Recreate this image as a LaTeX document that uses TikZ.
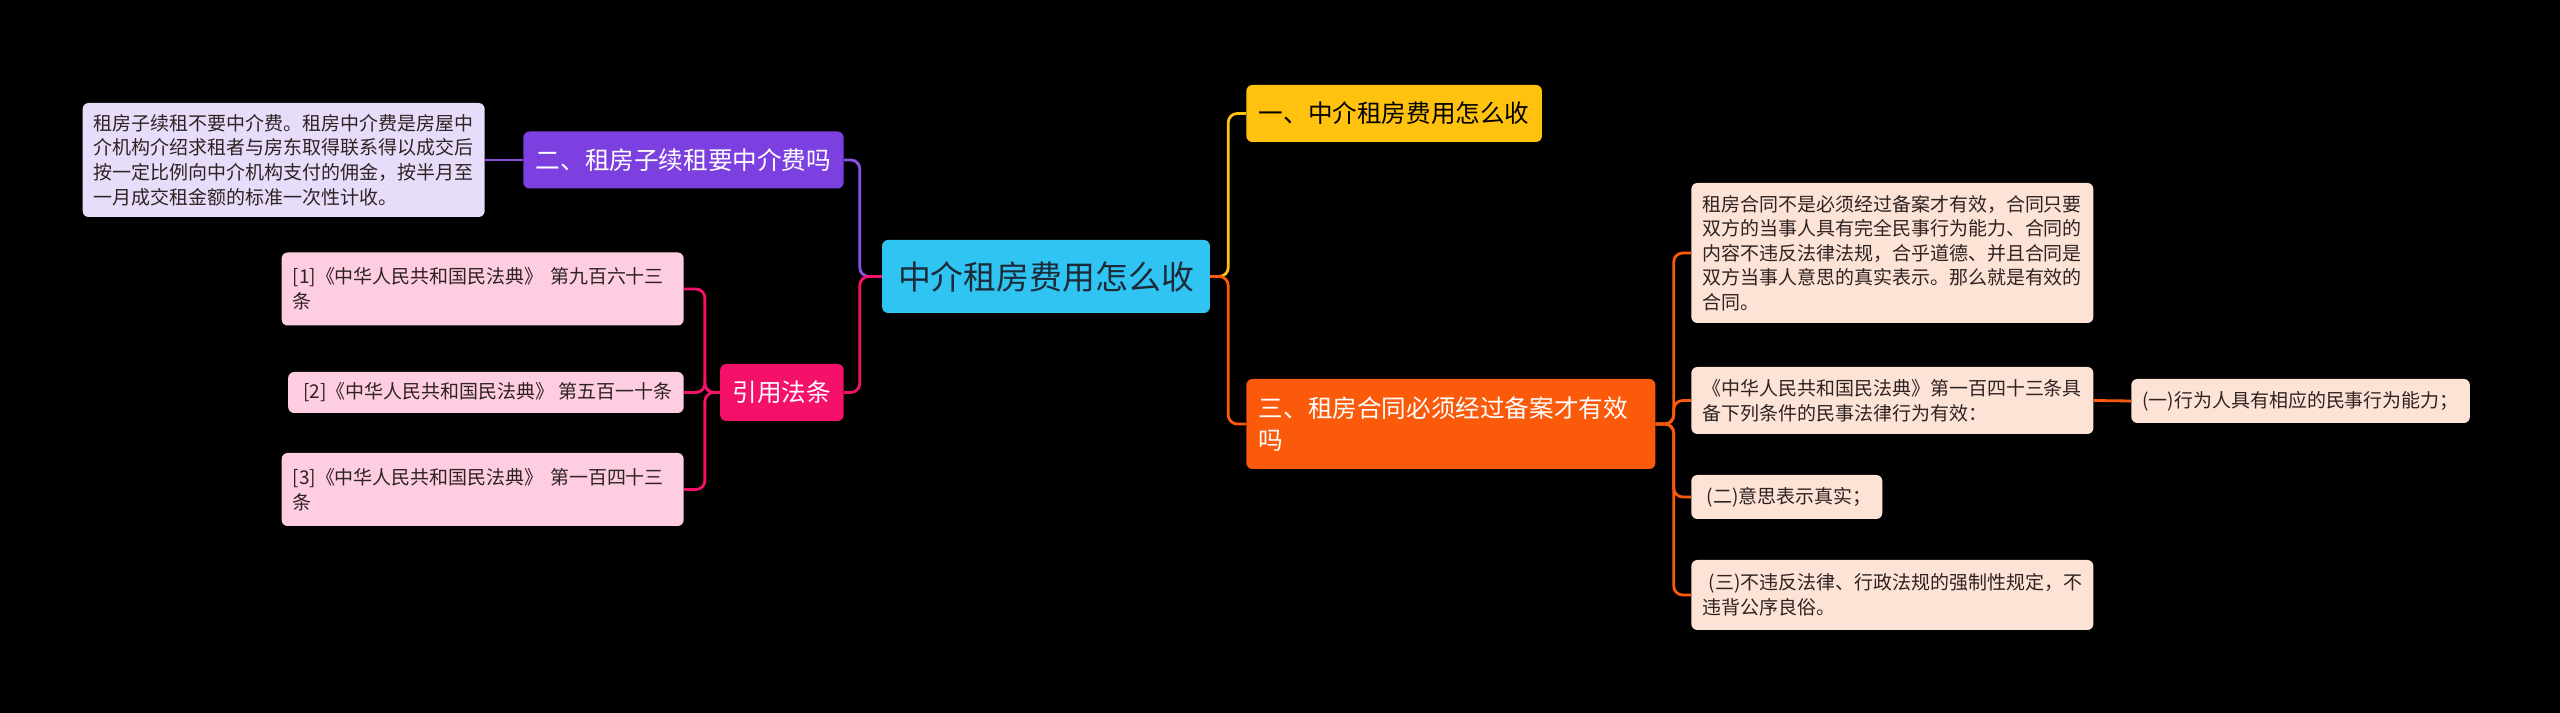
\documentclass[tikz,border=0pt]{standalone}
\usepackage{fontspec}
\setmainfont{Noto Sans CJK SC}
\definecolor{ctrfill}{HTML}{30C4F2}
\definecolor{ctrtext}{HTML}{1C2A38}
\definecolor{yifill}{HTML}{FFC20F}
\definecolor{sanfill}{HTML}{FA5A0A}
\definecolor{erfill}{HTML}{7C3FE0}
\definecolor{yyfill}{HTML}{F5106A}
\definecolor{erleaf}{HTML}{E7DDFB}
\definecolor{yyleaf}{HTML}{FFCDE1}
\definecolor{sanleaf}{HTML}{FDE3D5}
\definecolor{leaftext}{HTML}{2E2222}
\begin{document}
\begin{tikzpicture}[
  box/.style={rounded corners=0.12cm, inner ysep=0.12cm, align=left},
  branch/.style={box, inner xsep=0.25cm, minimum height=1.14cm,
    font=\fontsize{14}{18}\selectfont},
  leaf/.style={box, inner xsep=0.22cm, minimum height=0.88cm, text=leaftext,
    font=\fontsize{10.8}{14}\selectfont},
  wide/.style={text width=7.6cm},
  link/.style={line width=1.6pt, rounded corners=0.18cm}
]
\path[fill=black] (0,0) rectangle (51.2,14.26);

% centre
\node[box, fill=ctrfill, text=ctrtext, inner xsep=0.32cm, minimum height=1.46cm,
  font=\fontsize{18.7}{22}\selectfont] (ctr) at (20.92,8.73) {中介租房费用怎么收};

% right side
\node[branch, fill=yifill, text=black, anchor=west] (yi) at (24.92,11.99) {一、中介租房费用怎么收};
\node[branch, fill=sanfill, text=white, anchor=west, text width=7.68cm, minimum height=1.8cm]
  (san) at (24.92,5.78) {三、租房合同必须经过备案才有效\\吗};
\node[leaf, wide, fill=sanleaf, anchor=west, minimum height=2.8cm] (la) at (33.82,9.2)
  {租房合同不是必须经过备案才有效，合同只要\\双方的当事人具有完全民事行为能力、合同的\\内容不违反法律法规，合乎道德、并且合同是\\双方当事人意思的真实表示。那么就是有效的\\合同。};
\node[leaf, wide, fill=sanleaf, anchor=west, minimum height=1.34cm] (lb) at (33.82,6.25)
  {《中华人民共和国民法典》第一百四十三条具\\备下列条件的民事法律行为有效：};
\node[leaf, fill=sanleaf, anchor=west] (lb1) at (42.62,6.24) {(一)行为人具有相应的民事行为能力；};
\node[leaf, fill=sanleaf, anchor=west] (lc) at (33.82,4.32) {\ (二)意思表示真实；};
\node[leaf, wide, fill=sanleaf, anchor=west, minimum height=1.4cm] (ld) at (33.82,2.36)
  {\ (三)不违反法律、行政法规的强制性规定，不\\违背公序良俗。};

% left side
\node[branch, fill=erfill, text=white, anchor=east] (er) at (16.88,11.06) {二、租房子续租要中介费吗};
\node[branch, fill=yyfill, text=white, anchor=east] (yy) at (16.88,6.41) {引用法条};
\node[leaf, wide, fill=erleaf, anchor=east, minimum height=2.28cm] (el) at (9.7,11.06)
  {租房子续租不要中介费。租房中介费是房屋中\\介机构介绍求租者与房东取得联系得以成交后\\按一定比例向中介机构支付的佣金，按半月至\\一月成交租金额的标准一次性计收。};
\node[leaf, wide, fill=yyleaf, anchor=east, minimum height=1.46cm] (r1) at (13.68,8.48)
  {[1]《中华人民共和国民法典》 第九百六十三\\条};
\node[leaf, fill=yyleaf, anchor=east, minimum height=0.82cm] (r2) at (13.68,6.41)
  {\ [2]《中华人民共和国民法典》 第五百一十条};
\node[leaf, wide, fill=yyleaf, anchor=east, minimum height=1.46cm] (r3) at (13.68,4.47)
  {[3]《中华人民共和国民法典》 第一百四十三\\条};

% links
\draw[link, color=yifill] (ctr.east) -- ++(0.36,0) |- (yi.west);
\draw[link, color=sanfill] (ctr.east) -- ++(0.36,0) |- (san.west);
\draw[link, color=erfill!90!white] (ctr.west) -- ++(-0.44,0) |- (er.east);
\draw[link, color=yyfill] (ctr.west) -- ++(-0.44,0) |- (yy.east);
\draw[link, color=erfill!90!white] (er.west) -- (el.east);
\foreach \n in {r1,r2,r3}
  \draw[link, color=yyfill] (yy.west) -- ++(-0.3,0) |- (\n.east);
\foreach \n in {la,lb,lc,ld}
  \draw[link, color=sanfill] (san.east) -- ++(0.36,0) |- (\n.west);
\draw[link, color=sanfill] (lb.east) -- (lb1.west);
\end{tikzpicture}
\end{document}
